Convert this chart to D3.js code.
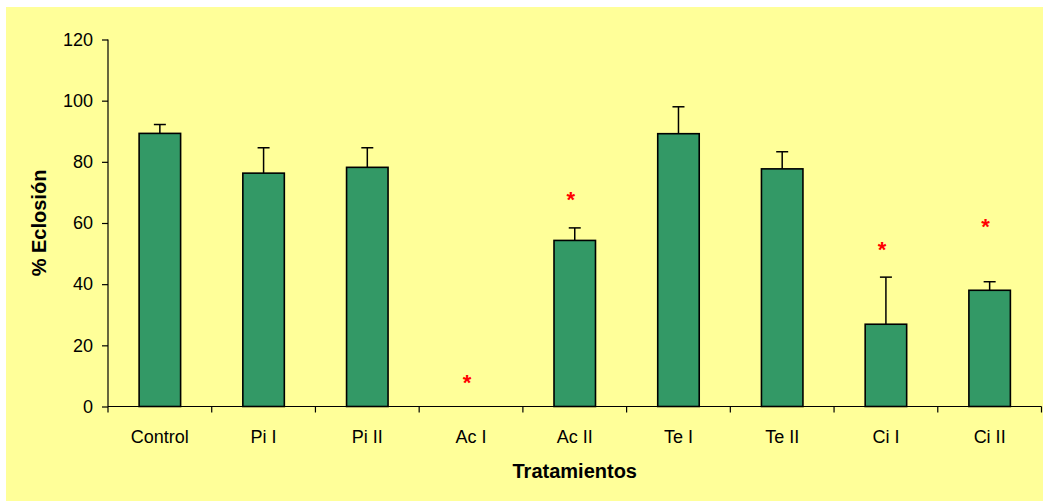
<!DOCTYPE html>
<html>
<head>
<meta charset="utf-8">
<script src="https://cdn.jsdelivr.net/npm/d3@7"></script>
<style>
  html, body { margin: 0; padding: 0; background: #ffffff; }
  svg { display: block; }
  text { font-family: "Liberation Sans", Arial, sans-serif; fill: #000; }
</style>
</head>
<body>
<svg id="chart" width="1043" height="501"></svg>
<script>
const categories = ["Control", "Pi I", "Pi II", "Ac I", "Ac II", "Te I", "Te II", "Ci I", "Ci II"];
const values     = [89.3, 76.3, 78.2, 0, 54.3, 89.2, 77.7, 26.9, 38.0];
const errors     = [2.9, 8.3, 6.4, 0, 4.1, 8.8, 5.6, 15.4, 2.8];
const asterisks  = [null, null, null, 8.7, 68.6, null, null, 52.3, 59.8];
const yTicks     = [0, 20, 40, 60, 80, 100, 120];

(function () {
const svg = d3.select("#chart");
const W = 1043, H = 501;

svg.append("rect").attr("x", 6).attr("y", 7).attr("width", W - 6).attr("height", H - 7)
  .attr("fill", "#FFFF99");

const pL = 108, pR = 1041.5, pT = 39.5, pB = 406.5;

const x = d3.scaleBand().domain(categories).range([pL, pR])
  .paddingInner(0.6).paddingOuter(0.3);
const xIdx = d3.scaleLinear().domain([0, categories.length]).range([pL, pR]);
const y = d3.scaleLinear().domain([0, 120]).range([pB, pT]);

const g = svg.append("g");

// Bars
g.selectAll("rect.bar").data(categories).enter().append("rect")
  .attr("class", "bar")
  .attr("x", d => x(d))
  .attr("y", (d, i) => y(values[i]))
  .attr("width", x.bandwidth())
  .attr("height", (d, i) => pB - y(values[i]))
  .attr("fill", "#339966")
  .attr("stroke", "#000")
  .attr("stroke-width", 1.6);

// Error bars
const eb = g.selectAll("g.err").data(categories.filter((d, i) => errors[i] > 0)).enter().append("g");
eb.append("line")
  .attr("x1", d => x(d) + x.bandwidth() / 2)
  .attr("x2", d => x(d) + x.bandwidth() / 2)
  .attr("y1", d => y(values[categories.indexOf(d)]))
  .attr("y2", d => { const i = categories.indexOf(d); return y(values[i] + errors[i]); })
  .attr("stroke", "#000").attr("stroke-width", 1.5);
eb.append("line")
  .attr("x1", d => x(d) + x.bandwidth() / 2 - 6)
  .attr("x2", d => x(d) + x.bandwidth() / 2 + 6)
  .attr("y1", d => { const i = categories.indexOf(d); return y(values[i] + errors[i]); })
  .attr("y2", d => { const i = categories.indexOf(d); return y(values[i] + errors[i]); })
  .attr("stroke", "#000").attr("stroke-width", 1.5);

// Asterisks
g.selectAll("text.ast").data(categories.filter((d, i) => asterisks[i] !== null)).enter().append("text")
  .attr("class", "ast")
  .attr("x", d => x(d) + x.bandwidth() / 2 - 4)
  .attr("y", d => y(asterisks[categories.indexOf(d)]) + 10)
  .attr("text-anchor", "middle")
  .style("fill", "#FF0000")
  .style("font-size", "22px")
  .style("font-weight", "bold")
  .text("*");

// Y axis
const yAxis = d3.axisLeft(y).tickValues(yTicks).tickSize(6).tickPadding(9);
const ya = svg.append("g").attr("transform", `translate(${pL},0)`).call(yAxis);
ya.select(".domain").attr("stroke", "#000").attr("stroke-width", 1.2)
  .attr("d", `M0,${pT}V${pB}`);
ya.selectAll(".tick line").attr("stroke", "#000").attr("stroke-width", 1.2);
ya.selectAll(".tick text").style("font-size", "18px").style("font-family", "'Liberation Sans', Arial, sans-serif").attr("fill", "#000");

// X axis
const xa = svg.append("g");
xa.append("line").attr("x1", pL).attr("x2", pR).attr("y1", pB).attr("y2", pB)
  .attr("stroke", "#000").attr("stroke-width", 1.2);
xa.selectAll("line.xt").data(d3.range(categories.length + 1)).enter().append("line")
  .attr("x1", d => xIdx(d)).attr("x2", d => xIdx(d))
  .attr("y1", pB).attr("y2", pB + 6)
  .attr("stroke", "#000").attr("stroke-width", 1.2);
xa.selectAll("text.xl").data(categories).enter().append("text")
  .attr("x", d => x(d) + x.bandwidth() / 2)
  .attr("y", 443)
  .attr("text-anchor", "middle")
  .style("font-size", "18px")
  .text(d => d);

// Axis titles
svg.append("text")
  .attr("x", (pL + pR) / 2).attr("y", 478)
  .attr("text-anchor", "middle")
  .style("font-size", "20px").style("font-weight", "bold")
  .text("Tratamientos");
svg.append("text")
  .attr("transform", `translate(46,${(pT + pB) / 2}) rotate(-90)`)
  .attr("text-anchor", "middle")
  .style("font-size", "20px").style("font-weight", "bold")
  .text("% Eclosión");
})();
</script>
</body>
</html>
